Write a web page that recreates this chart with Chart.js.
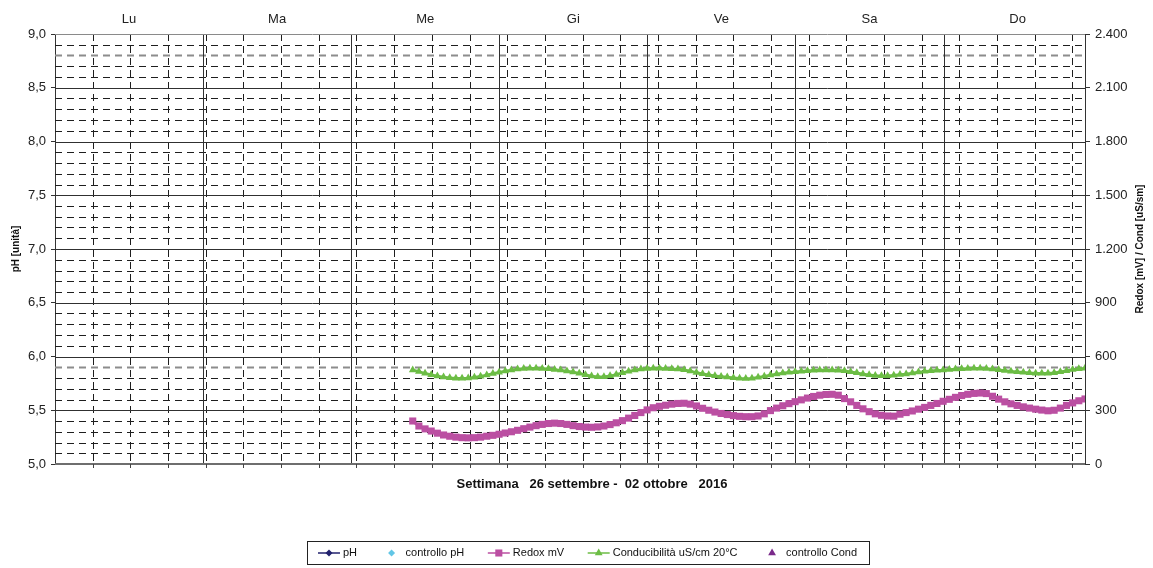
<!DOCTYPE html>
<html>
<head>
<meta charset="utf-8">
<script src="https://cdn.jsdelivr.net/npm/chart.js@4"></script>
<style>
  html, body { margin: 0; padding: 0; background: #ffffff; }
  #wrap { width: 1153px; height: 568px; }
</style>
</head>
<body>
<div id="wrap"><canvas id="c" width="1153" height="568"></canvas></div>
<script>
// Week labels shown above the plot (one per day)
const dayNames = ['Lu', 'Ma', 'Me', 'Gi', 'Ve', 'Sa', 'Do'];

// Hour of the week (0 = Monday 00:00) of the first logged sample
const firstHour = 58;

// Redox potential, mV, one sample per hour
const redoxMv = [
  240, 212, 196, 184, 172, 162, 155, 150, 147, 146,
  147, 150, 155, 160, 166, 173, 180, 188, 197, 206,
  214, 221, 226, 228, 226, 221, 214, 209, 206, 205,
  207, 212, 220, 230, 242, 256, 271, 287, 302, 314,
  322, 328, 334, 338, 339, 334, 324, 311, 300, 290,
  282, 276, 270, 266, 264, 264, 268, 280, 298, 312,
  325, 337, 348, 358, 368, 377, 384, 388, 389, 384,
  365, 347, 327, 308, 292, 280, 272, 268, 267, 278,
  287, 296, 306, 316, 327, 338, 350, 361, 372, 382,
  389, 394, 396, 393, 378, 362, 347, 336, 327, 319,
  312, 306, 301, 297, 300, 312, 327, 341, 353, 363
];

// Conductivity at 20 °C, uS/cm, one sample per hour
const conducibilita = [
  525, 516, 506, 498, 491, 486, 482, 479, 478, 480,
  484, 490, 497, 505, 512, 519, 525, 530, 533, 534,
  534, 533, 531, 528, 524, 519, 514, 506, 498, 491,
  487, 487, 492, 500, 509, 518, 525, 530, 533, 534,
  534, 533, 531, 530, 526, 519, 511, 504, 498, 493,
  489, 485, 481, 478, 477, 479, 484, 490, 497, 503,
  508, 512, 515, 518, 521, 523, 524, 525, 525, 523,
  520, 515, 509, 503, 498, 494, 492, 493, 496, 500,
  503, 508, 513, 517, 520, 523, 525, 528, 530, 532,
  533, 534, 534, 533, 530, 526, 522, 518, 515, 512,
  509, 507, 506, 507, 510, 515, 521, 527, 531, 534
];

// pH and spot-check series (no readings this week)
const phValues = [];
const controlloPh = [];
const controlloCond = [];

// Axis ranges and steps
const phMin = 5, phMax = 9, phStep = 0.5, phMinorStep = 0.1;
const rightMin = 0, rightMax = 2400, rightStep = 300;
const hoursMax = 167;       // last hourly slot on the data axis
const gridHoursMax = 164;   // span of the 6-hour dashed grid axis
const gridHourStep = 6;
const daySpan = 6.955;      // span of the day axis (in days)

const toPoints = arr => arr.map((v, i) => ({ x: firstHour + i, y: v }));

const FONT = "'Liberation Sans', Arial, Helvetica, sans-serif";
Chart.defaults.font.family = FONT;
Chart.defaults.color = '#222222';

const fmtPh = v => v.toFixed(1).replace('.', ',');
const fmtThousands = v => String(Math.round(v)).replace(/\B(?=(\d{3})+(?!\d))/g, '.');

// Dashed / solid sheet grid, frame and axis titles, plus the boxed legend
const sheetPlugin = {
  id: 'sheetGrid',
  beforeDatasetsDraw(chart) {
    const { ctx, chartArea: a, scales } = chart;
    const yL = scales.y, xg = scales.xg, xd = scales.xd;
    ctx.save();

    // minor horizontal dashed lines
    ctx.setLineDash([7, 5]);
    const nMinor = Math.round((phMax - phMin) / phMinorStep);
    const perMajor = Math.round(phStep / phMinorStep);
    for (let i = 1; i < nMinor; i++) {
      if (i % perMajor === 0) continue;
      const y = Math.round(yL.getPixelForValue(phMin + i * phMinorStep)) + 0.5;
      const grey = (i === 9 || i === 38);
      ctx.strokeStyle = grey ? '#8c8c8c' : '#1e1e1e';
      ctx.lineWidth = grey ? 2 : 1;
      ctx.beginPath(); ctx.moveTo(a.left, y); ctx.lineTo(a.right, y); ctx.stroke();
    }

    // 6-hour dashed vertical lines
    ctx.strokeStyle = '#1e1e1e';
    ctx.lineWidth = 1;
    for (let h = gridHourStep; h < gridHoursMax + 0.01; h += gridHourStep) {
      const x = Math.round(xg.getPixelForValue(h)) + 0.5;
      if (x >= a.right - 1) continue;
      ctx.beginPath(); ctx.moveTo(x, a.top); ctx.lineTo(x, a.bottom); ctx.stroke();
    }

    // major horizontal solid lines
    ctx.setLineDash([]);
    ctx.strokeStyle = '#303030';
    for (let v = phMin + phStep; v < phMax - 0.001; v += phStep) {
      const y = Math.round(yL.getPixelForValue(v)) + 0.5;
      ctx.beginPath(); ctx.moveTo(a.left, y); ctx.lineTo(a.right, y); ctx.stroke();
    }

    // day separators
    for (let d = 1; d < dayNames.length; d++) {
      const x = Math.round(xd.getPixelForValue(d)) + 0.5;
      ctx.beginPath(); ctx.moveTo(x, a.top); ctx.lineTo(x, a.bottom); ctx.stroke();
    }

    // frame: top and bottom edges
    ctx.strokeStyle = '#8a8a8a';
    ctx.lineWidth = 1;
    ctx.beginPath(); ctx.moveTo(a.left, a.top + 0.5); ctx.lineTo(a.right, a.top + 0.5); ctx.stroke();
    ctx.strokeStyle = '#6e6e6e';
    ctx.lineWidth = 2;
    ctx.beginPath(); ctx.moveTo(a.left, a.bottom); ctx.lineTo(a.right, a.bottom); ctx.stroke();

    // small tick marks under the bottom edge
    ctx.lineWidth = 1;
    ctx.strokeStyle = '#444';
    for (let h = gridHourStep; h < gridHoursMax + 0.01; h += gridHourStep) {
      const x = Math.round(xg.getPixelForValue(h)) + 0.5;
      ctx.beginPath(); ctx.moveTo(x, a.bottom); ctx.lineTo(x, a.bottom + 4); ctx.stroke();
    }
    ctx.restore();
  },
  afterDraw(chart) {
    const { ctx, chartArea: a } = chart;
    ctx.save();
    ctx.fillStyle = '#111';
    ctx.textAlign = 'center';
    ctx.textBaseline = 'middle';

    // axis titles
    ctx.font = 'bold 10px ' + FONT;
    const midY = (a.top + a.bottom) / 2;
    ctx.save();
    ctx.translate(16, midY);
    ctx.rotate(-Math.PI / 2);
    ctx.fillText('pH [unità]', 0, 0);
    ctx.restore();
    ctx.save();
    ctx.translate(1140, midY);
    ctx.rotate(-Math.PI / 2);
    ctx.fillText('Redox [mV] / Cond [uS/sm]', 0, 0);
    ctx.restore();

    ctx.font = 'bold 13px ' + FONT;
    ctx.fillText('Settimana   26 settembre -  02 ottobre   2016', 592, 484);

    // legend box
    const bx = 307, by = 541, bw = 562, bh = 23;
    ctx.strokeStyle = '#222';
    ctx.lineWidth = 1;
    ctx.strokeRect(bx + 0.5, by + 0.5, bw, bh);

    ctx.font = '11px ' + FONT;
    ctx.textAlign = 'left';
    const sym = 22, gapTxt = 3, padL = 11, padR = 12;
    const items = chart.data.datasets.map(ds => ({
      ds, w: sym + gapTxt + ctx.measureText(ds.label).width
    }));
    const total = items.reduce((s, it) => s + it.w, 0);
    const gap = (bw - padL - padR - total) / (items.length - 1);
    let x = bx + padL;
    const cy = by + bh / 2 + 0.5;
    items.forEach(it => {
      const ds = it.ds;
      if (ds.showLine !== false) {
        ctx.strokeStyle = ds.borderColor;
        ctx.lineWidth = 1.5;
        ctx.beginPath(); ctx.moveTo(x, cy); ctx.lineTo(x + sym, cy); ctx.stroke();
      }
      ctx.fillStyle = ds.backgroundColor;
      ctx.strokeStyle = ds.backgroundColor;
      Chart.helpers.drawPoint(ctx, {
        pointStyle: ds.pointStyle, radius: ds.legendRadius || 3,
        rotation: 0, borderWidth: 0
      }, x + sym / 2, cy);
      ctx.fillStyle = '#111';
      ctx.fillText(ds.label, x + sym + gapTxt, cy);
      x += it.w + gap;
    });
    ctx.restore();
  }
};

const ctx = document.getElementById('c').getContext('2d');
const chart = new Chart(ctx, {
  type: 'line',
  data: {
    datasets: [
      {
        label: 'pH', data: toPoints(phValues), yAxisID: 'y', xAxisID: 'x',
        borderColor: '#22226e', backgroundColor: '#22226e',
        pointStyle: 'rectRot', legendRadius: 3.5, pointRadius: 3.5, borderWidth: 1.5
      },
      {
        label: 'controllo pH', data: toPoints(controlloPh), yAxisID: 'y', xAxisID: 'x',
        borderColor: '#62c6e6', backgroundColor: '#62c6e6', showLine: false,
        pointStyle: 'rectRot', legendRadius: 3.5, pointRadius: 3.5
      },
      {
        label: 'Redox mV', data: toPoints(redoxMv), yAxisID: 'y1', xAxisID: 'x',
        borderColor: '#bb4fa2', backgroundColor: '#bb4fa2',
        pointStyle: 'rect', legendRadius: 5, pointRadius: 5, pointBorderWidth: 0,
        borderWidth: 3, tension: 0
      },
      {
        label: 'Conducibilità uS/cm 20°C', data: toPoints(conducibilita), yAxisID: 'y1', xAxisID: 'x',
        borderColor: '#6cbd45', backgroundColor: '#6cbd45',
        pointStyle: 'triangle', legendRadius: 4.5, pointRadius: 4.5, pointBorderWidth: 0,
        borderWidth: 2.5, tension: 0
      },
      {
        label: 'controllo Cond', data: toPoints(controlloCond), yAxisID: 'y1', xAxisID: 'x',
        borderColor: '#7a2a8a', backgroundColor: '#7a2a8a', showLine: false,
        pointStyle: 'triangle', legendRadius: 4.5, pointRadius: 4.5
      }
    ]
  },
  options: {
    responsive: false,
    animation: false,
    events: [],
    layout: { padding: { left: 0, right: 0, top: 0, bottom: 104 } },
    plugins: { legend: { display: false }, tooltip: { enabled: false } },
    scales: {
      x: { type: 'linear', min: 0, max: hoursMax, display: false },
      xg: { type: 'linear', min: 0, max: gridHoursMax, display: false },
      xd: {
        type: 'linear', position: 'top', min: 0, max: daySpan,
        afterBuildTicks: s => { s.ticks = dayNames.map((n, i) => ({ value: i + 0.5 })); },
        afterFit: s => { s.height = 34; },
        ticks: {
          autoSkip: false, maxRotation: 0, padding: 7,
          font: { size: 13 }, color: '#222',
          callback: (v, i) => dayNames[i]
        },
        grid: { display: false, drawTicks: false },
        border: { display: false }
      },
      y: {
        position: 'left', min: phMin, max: phMax,
        afterFit: s => { s.width = 55; },
        ticks: { stepSize: phStep, padding: 5, font: { size: 13 }, color: '#222', callback: v => fmtPh(v) },
        grid: { drawOnChartArea: false, tickLength: 4, tickColor: '#333' },
        border: { color: '#333', width: 1 }
      },
      y1: {
        position: 'right', min: rightMin, max: rightMax,
        afterFit: s => { s.width = 68; },
        ticks: { stepSize: rightStep, padding: 5, font: { size: 13 }, color: '#222', callback: v => fmtThousands(v) },
        grid: { drawOnChartArea: false, tickLength: 5, tickColor: '#333' },
        border: { color: '#333', width: 1 }
      }
    }
  },
  plugins: [sheetPlugin]
});
</script>
</body>
</html>
